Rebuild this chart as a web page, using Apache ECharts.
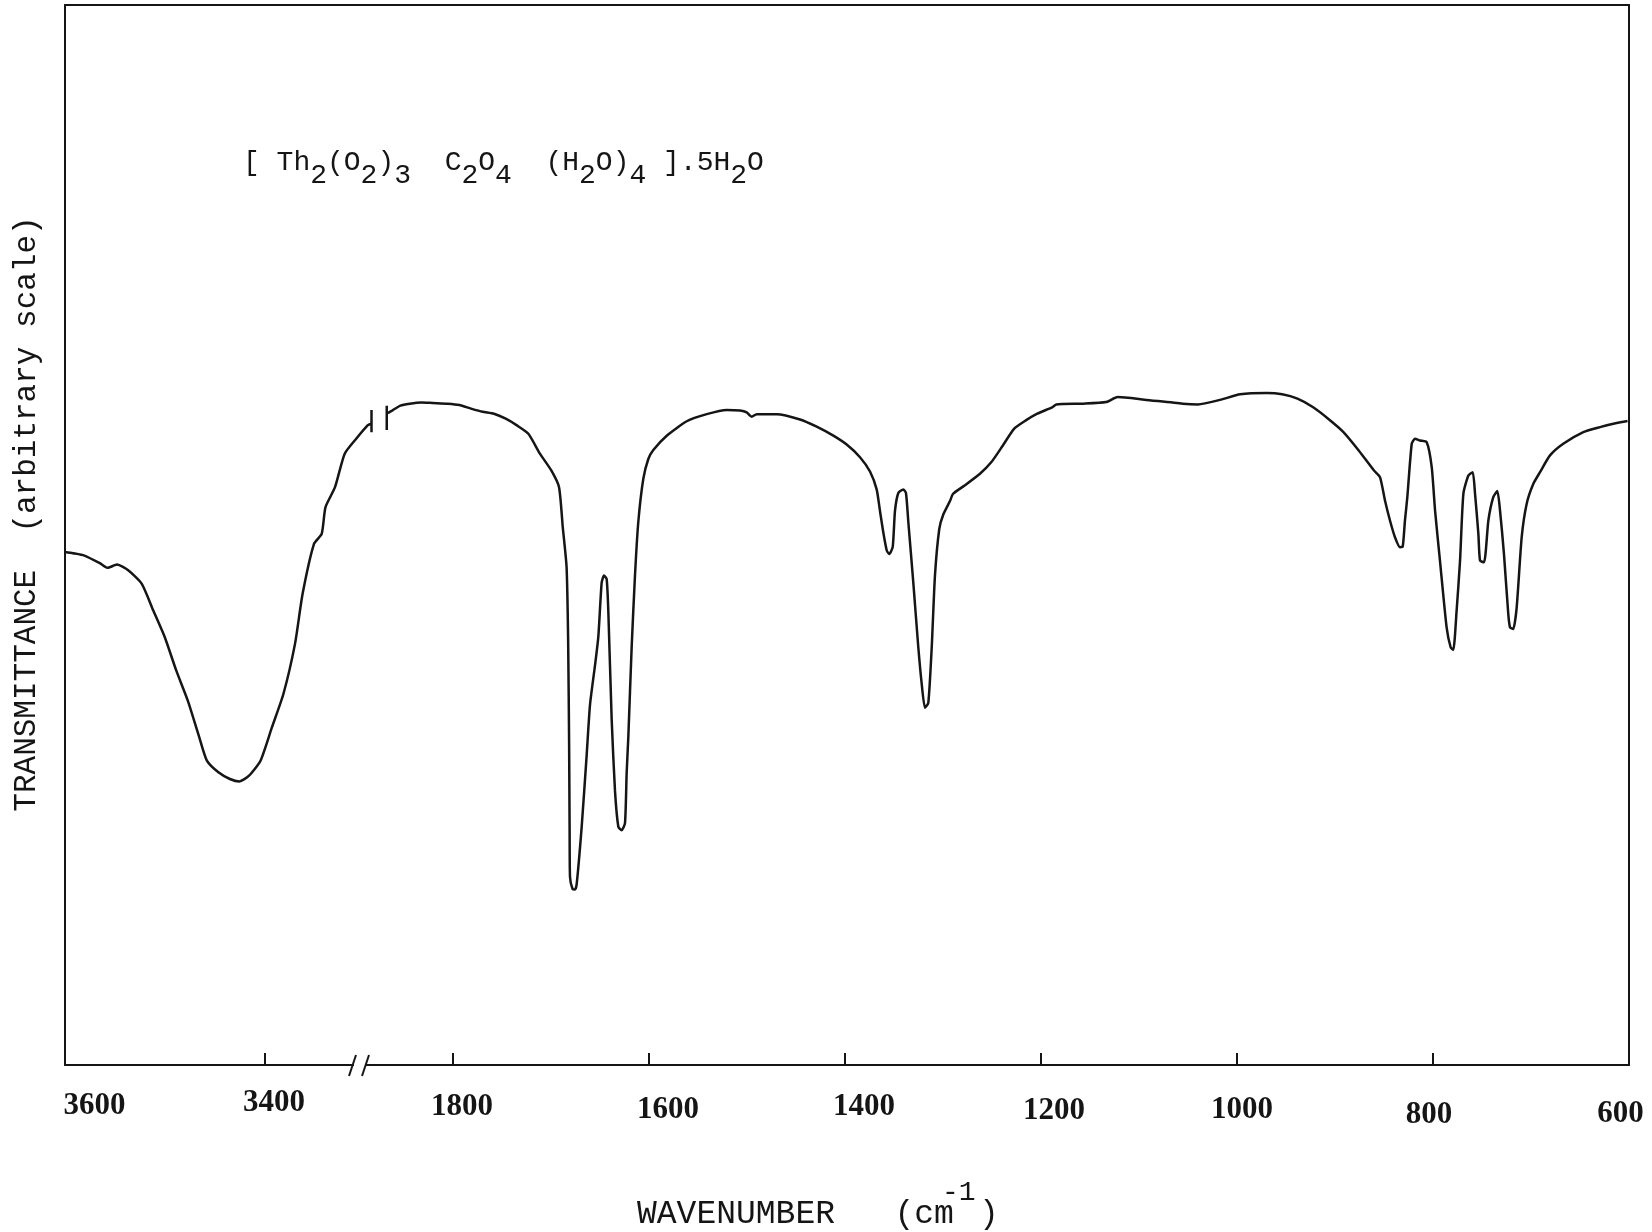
<!DOCTYPE html>
<html><head><meta charset="utf-8">
<script src="https://cdn.jsdelivr.net/npm/echarts@6/dist/echarts.min.js"></script>
<style>html,body{margin:0;padding:0;background:#fff}#c{width:1652px;height:1232px}</style>
</head><body><div id="c"></div>
<script>
// ---- data (wavenumber cm^-1, transmittance in arbitrary units 0..100) ----
const leftWavenumber = [3600,3592,3580.6,3565.2,3557.6,3548,3536.5,3523.2,3511.7,3500.2,3488.7,3477.2,3465.7,3458.1,3446.6,3435.1,3425.6,3416,3404.5,3393.1,3381.6,3370,3362.4,3351,3343.3,3339.5,3330,3320.3,3308.8,3297.4,3293.5];
const leftTransmittance = [48.4,48.28,48.06,47.34,46.9,47.21,46.65,45.39,42.87,40.35,37.2,34.37,30.91,28.71,27.61,26.98,26.75,27.29,28.71,31.85,35.0,39.73,44.45,49.17,50.11,52.63,54.51,57.67,59.08,60.34,60.5];

const rightWavenumber = [1866.5,1861.7,1853.7,1844.2,1832.2,1820.7,1805.1,1793.5,1781.6,1769.8,1758.2,1746.2,1734.8,1723.1,1711.3,1699.7,1691.8,1688.0,1684.1,1682.5,1681.5,1681,1680.6,1678,1675.5,1673.8,1668.7,1663.6,1660.2,1655.1,1651.7,1648.3,1645.9,1643.2,1641.5,1638.1,1634.7,1631.3,1627.9,1624.5,1622.8,1621.1,1617.7,1614.3,1610.9,1605.8,1600.7,1595.6,1581.9,1561.5,1541.1,1520.7,1507.1,1500.3,1495.2,1490.1,1469.7,1445.9,1428.9,1411.9,1398.3,1384.7,1374.5,1367.7,1364.3,1360.9,1357.4,1354.8,1351.3,1349,1345.6,1340.5,1337.8,1335.4,1330.3,1325.2,1321.8,1318.4,1315,1311.5,1308.2,1303.8,1299.7,1292.9,1289.7,1278,1262.3,1250.6,1238.9,1227.3,1215.5,1203.8,1188.2,1184.3,1156.9,1133.5,1121.8,1094.5,1055.4,1039.8,1016.3,996.8,969.5,953.9,938.3,922.7,907,891.4,875.8,860.2,854.1,849,843.9,838.8,833.7,830.9,828.6,826.2,821.7,818.4,813.3,806.4,801.3,797.9,792.9,786.1,782,779.3,775.9,772.4,769,763.9,759.5,757.1,753.7,752,747.9,743.5,738.5,734.4,731.6,727.6,723.2,721.4,718.1,714.6,709.5,704.4,697.6,690.8,680.6,667.1,646.6,629.6,612.6,601.5];
const rightTransmittance = [61.5,61.76,62.21,62.39,62.5,62.45,62.39,62.26,61.92,61.62,61.44,60.97,60.34,59.55,57.67,56.09,54.51,50.74,46.96,40,30,22,17.74,16.6,16.55,17.06,22.47,29.24,33.98,37.7,40.42,45.5,46.18,45.84,42.79,32.63,25.86,22.48,22.14,22.81,27.55,30.94,39.41,46.18,51.25,55.31,57.17,58.02,59.37,60.73,61.4,61.8,61.74,61.57,61.16,61.4,61.4,60.9,60.22,59.37,58.53,57.34,55.99,54.3,52.27,50.24,48.54,48.2,48.88,52.27,53.96,54.3,53.96,51.25,45.5,39.41,36.02,33.71,34.16,39.41,46.18,50.57,51.93,53.2,53.89,54.67,55.78,56.88,58.45,60.03,60.81,61.44,62.07,62.32,62.39,62.54,63.01,62.77,62.39,62.32,62.77,63.27,63.39,63.27,62.86,62.07,60.97,59.71,57.98,56.09,55.46,53.26,51.37,49.79,48.85,48.91,51.37,53.57,58.61,59.08,58.92,58.76,56.4,52.31,47.59,41.29,39.41,39.16,42.87,47.59,53.89,55.62,55.93,53.89,50.11,47.59,47.43,51.37,53.57,54.14,52.31,48.22,42.56,41.29,41.14,43.18,49.79,52.95,54.83,55.93,57.51,58.61,59.71,60.18,60.56,60.75];

// short vertical pen marks at the curve break
const leftBreakMarkWavenumber = [3293.5, 3293.5];
const leftBreakMarkTransmittance = [61.8, 59.7];
const rightBreakMarkWavenumber = [1867.6, 1867.6];
const rightBreakMarkTransmittance = [62.2, 59.9];

const leftTickLabels = [3600, 3400];
const rightTickLabels = [1800, 1600, 1400, 1200, 1000, 800, 600];

const formulaText = '{n|[ Th}{s|2}{n|(O}{s|2}{n|)}{s|3}{n|  C}{s|2}{n|O}{s|4}{n|  (H}{s|2}{n|O)}{s|4}{n| ].5H}{s|2}{n|O}';
const yTitle = 'TRANSMITTANCE  (arbitrary scale)';
const xTitleMain = 'WAVENUMBER   (cm';
const xTitleSup = '-1';
const xTitleEnd = ')';

// ---- styling ----
const zip = (a, b) => a.map((v, i) => [v, b[i]]);
const INK = '#151515';
const labelFont = "'Liberation Serif','DejaVu Serif',serif";
const monoFont = "'Liberation Mono','DejaVu Sans Mono',monospace";

// hand-typed label placement offsets in the original (px: [dx, dy])
const labelNudge = {3600: [29.5, 0], 3400: [9, -3], 1800: [9, 1], 1600: [19, 4.5], 1400: [19, 1], 1200: [13, 5], 1000: [5, 4], 800: [-4, 9], 600: [-8.5, 8]};
const labelRich = {};
Object.keys(labelNudge).forEach(k => {
  const [dx, dy] = labelNudge[k];
  labelRich['v' + k] = {
    fontFamily: labelFont, fontSize: 31, fontWeight: 'bold', color: INK,
    padding: [dy + 3, dx < 0 ? -2 * dx : 0, 0, dx > 0 ? 2 * dx : 0]
  };
});
const labelFmt = v => '{v' + v + '|' + v + '}';

// grid split sits just right of the pen break marks; axis break "//" is drawn on top
const SPLIT = 378;
const axisLine = {show: true, onZero: false, lineStyle: {color: INK, width: 2}};
const grid0 = {left: 65, top: 5, width: SPLIT - 65, height: 1060};
const grid1 = {left: SPLIT, top: 5, width: 1629 - SPLIT, height: 1060};
const leftMin = 3600 - (SPLIT - 65);          // 1 px per cm-1
const rightMax = 1800 + (453 - SPLIT) / 0.98; // 0.98 px per cm-1

const chart = echarts.init(document.getElementById('c'), null, {renderer: 'canvas'});
chart.setOption({
  backgroundColor: '#ffffff',
  animation: false,
  grid: [grid0, grid1],
  xAxis: [
    {gridIndex: 0, type: 'value', inverse: true, min: leftMin, max: 3600, position: 'bottom',
      axisLine: axisLine, splitLine: {show: false},
      axisTick: {show: true, inside: true, length: 12, lineStyle: {color: INK, width: 2}, customValues: [3400]},
      axisLabel: {show: true, customValues: leftTickLabels, formatter: labelFmt, rich: labelRich, margin: 22}},
    {gridIndex: 1, type: 'value', inverse: true, min: 600, max: rightMax, position: 'bottom',
      axisLine: axisLine, splitLine: {show: false},
      axisTick: {show: true, inside: true, length: 12, lineStyle: {color: INK, width: 2}, customValues: [1800, 1600, 1400, 1200, 1000, 800]},
      axisLabel: {show: true, customValues: rightTickLabels, formatter: labelFmt, rich: labelRich, margin: 22}},
    {gridIndex: 0, type: 'value', inverse: true, min: leftMin, max: 3600, position: 'top',
      axisLine: axisLine, axisTick: {show: false}, axisLabel: {show: false}, splitLine: {show: false}},
    {gridIndex: 1, type: 'value', inverse: true, min: 600, max: rightMax, position: 'top',
      axisLine: axisLine, axisTick: {show: false}, axisLabel: {show: false}, splitLine: {show: false}}
  ],
  yAxis: [
    {gridIndex: 0, type: 'value', min: 0, max: 100, position: 'left',
      axisLine: axisLine, axisTick: {show: false}, axisLabel: {show: false}, splitLine: {show: false}},
    {gridIndex: 1, type: 'value', min: 0, max: 100, position: 'right',
      axisLine: axisLine, axisTick: {show: false}, axisLabel: {show: false}, splitLine: {show: false}}
  ],
  series: [
    {type: 'line', xAxisIndex: 0, yAxisIndex: 0, data: zip(leftWavenumber, leftTransmittance),
      showSymbol: false, symbol: 'none', smooth: 0.2, lineStyle: {color: INK, width: 2.5}},
    {type: 'line', xAxisIndex: 0, yAxisIndex: 0, data: zip(leftBreakMarkWavenumber, leftBreakMarkTransmittance),
      showSymbol: false, symbol: 'none', lineStyle: {color: INK, width: 2.5}},
    {type: 'line', xAxisIndex: 1, yAxisIndex: 1, data: zip(rightBreakMarkWavenumber, rightBreakMarkTransmittance),
      showSymbol: false, symbol: 'none', lineStyle: {color: INK, width: 2.5}},
    {type: 'line', xAxisIndex: 1, yAxisIndex: 1, data: zip(rightWavenumber, rightTransmittance),
      showSymbol: false, symbol: 'none', smooth: 0.2, lineStyle: {color: INK, width: 2.5}}
  ],
  graphic: [
    // axis break "//"
    {type: 'rect', z: 100, shape: {x: 354, y: 1058, width: 11, height: 14}, style: {fill: '#ffffff'}},
    {type: 'line', z: 101, shape: {x1: 349, y1: 1076, x2: 356, y2: 1055}, style: {stroke: INK, lineWidth: 2}},
    {type: 'line', z: 101, shape: {x1: 362, y1: 1076, x2: 369, y2: 1055}, style: {stroke: INK, lineWidth: 2}},
    // formula
    {type: 'text', z: 50, x: 243, y: 149, style: {
      text: formulaText, fill: INK, verticalAlign: 'top', align: 'left',
      rich: {
        n: {fontFamily: monoFont, fontSize: 28, lineHeight: 28, verticalAlign: 'top', fill: INK},
        s: {fontFamily: monoFont, fontSize: 28, lineHeight: 28, padding: [13, 0, 0, 0], verticalAlign: 'top', fill: INK}
      }}},
    // y title
    {type: 'text', z: 50, x: 27, y: 514, rotation: Math.PI / 2, style: {
      text: yTitle, fill: INK, fontFamily: monoFont, fontSize: 31, align: 'center', verticalAlign: 'middle'}},
    // x title
    {type: 'text', z: 50, x: 637, y: 1214, style: {
      text: xTitleMain, fill: INK, fontFamily: monoFont, fontSize: 33, align: 'left', verticalAlign: 'middle'}},
    {type: 'text', z: 50, x: 942, y: 1193, style: {
      text: xTitleSup, fill: INK, fontFamily: monoFont, fontSize: 28, align: 'left', verticalAlign: 'middle'}},
    {type: 'text', z: 50, x: 979, y: 1214, style: {
      text: xTitleEnd, fill: INK, fontFamily: monoFont, fontSize: 33, align: 'left', verticalAlign: 'middle'}}
  ]
});
</script>
</body></html>
